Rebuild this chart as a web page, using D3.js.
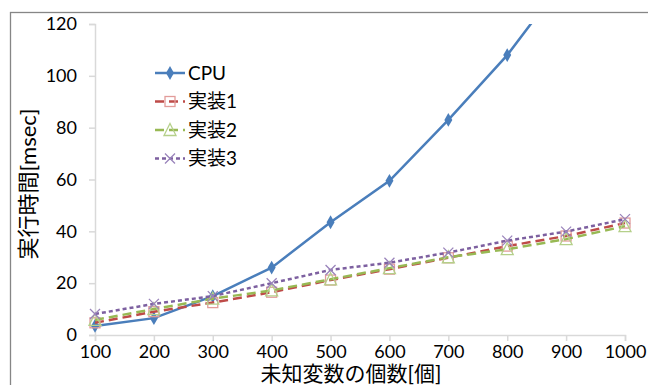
<!DOCTYPE html>
<html>
<head>
<meta charset="utf-8">
<script src="https://cdn.jsdelivr.net/npm/d3@7"></script>
<style>
  body { margin: 0; background: #fff; }
  svg { display: block; font-family: Lato, "Noto Sans CJK JP", sans-serif; }
</style>
</head>
<body>
<div id="chart"></div>
<script>
// データ
const xValues = [100, 200, 300, 400, 500, 600, 700, 800, 900, 1000];
const cpu   = [3.5, 6.5, 15, 26, 43.5, 59.5, 83, 108, 138, 170];
const impl1 = [4.7, 9, 12.5, 16.5, 21.2, 25.4, 29.8, 34.3, 38.2, 43.2];
const impl2 = [5.8, 10, 14, 17.2, 21.5, 25.8, 30, 33.1, 37, 42];
const impl3 = [8.1, 12, 15, 20, 25.1, 27.9, 31.8, 36.4, 39.9, 44.7];
const seriesNames = ["CPU", "実装1", "実装2", "実装3"];
const yTicks = [0, 20, 40, 60, 80, 100, 120];

const width = 648, height = 385;
const svg = d3.select("#chart").append("svg")
    .attr("width", width).attr("height", height);

// 外枠
svg.append("rect")
    .attr("x", 10.5).attr("y", 12.5)
    .attr("width", 700).attr("height", 400)
    .attr("fill", "none").attr("stroke", "#868686").attr("stroke-width", 1.3);

const x = d3.scaleLinear().domain([100, 1000]).range([95, 625]);
const y = d3.scaleLinear().domain([0, 120]).range([335, 24]);

// 軸
const yAxis = svg.append("g")
    .attr("transform", "translate(95,0)")
    .call(d3.axisLeft(y).tickValues(yTicks).tickFormat(d3.format("d")).tickSize(6).tickPadding(12));
const xAxis = svg.append("g")
    .attr("transform", "translate(0,335)")
    .call(d3.axisBottom(x).tickValues(xValues).tickFormat(d3.format("d")).tickSize(6).tickPadding(4));
[xAxis, yAxis].forEach(a => {
    a.selectAll("path, line").attr("stroke", "#d9d9d9").attr("stroke-width", 1.5);
    a.selectAll("text").attr("fill", "#000").style("font-size", "18px")
        .style("font-family", "Lato, 'Noto Sans CJK JP', sans-serif");
});

// 系列
const styles = [
    { color: "#4a7ebb", mark: "#4a7ebb", dash: null, w: 2.5, sym: "diamond" },
    { color: "#be4b48", mark: "#e29c9a", dash: "9,5", w: 2.5, sym: "square" },
    { color: "#98b954", mark: "#b5d08a", dash: "9,5", w: 2.5, sym: "triangle" },
    { color: "#7d60a0", mark: "#9a84bb", dash: "4,3", w: 2.5, sym: "x" }
];
const allSeries = [cpu, impl1, impl2, impl3];

svg.append("clipPath").attr("id", "plot")
    .append("rect").attr("x", 80).attr("y", 24).attr("width", 560).attr("height", 330);

const line = d3.line().x((d, i) => x(xValues[i])).y(d => y(d));

function drawMarker(g, sym, cx, cy, st) {
    if (sym === "diamond") {
        g.append("path").attr("d", d3.symbol(d3.symbolDiamond, 55)())
            .attr("transform", `translate(${cx},${cy})`).attr("fill", st.mark);
    } else if (sym === "square") {
        g.append("rect").attr("x", cx - 5).attr("y", cy - 5).attr("width", 10).attr("height", 10)
            .attr("fill", "none").attr("stroke", st.mark).attr("stroke-width", 1.3);
    } else if (sym === "triangle") {
        g.append("path").attr("d", `M${cx},${cy - 6.5}L${cx + 6},${cy + 5.5}L${cx - 6},${cy + 5.5}Z`)
            .attr("fill", "none").attr("stroke", st.mark).attr("stroke-width", 1.3);
    } else {
        g.append("path").attr("d", `M${cx - 5},${cy - 5}L${cx + 5},${cy + 5}M${cx - 5},${cy + 5}L${cx + 5},${cy - 5}`)
            .attr("stroke", st.mark).attr("stroke-width", 1.3);
    }
}

const plot = svg.append("g").attr("clip-path", "url(#plot)");
allSeries.forEach((s, k) => {
    const st = styles[k];
    const g = plot.append("g");
    g.append("path").datum(s).attr("d", line)
        .attr("fill", "none").attr("stroke", st.color).attr("stroke-width", st.w)
        .attr("stroke-dasharray", st.dash);
    s.forEach((v, i) => drawMarker(g, st.sym, x(xValues[i]), y(v), st));
});

// 凡例
const legend = svg.append("g").attr("transform", "translate(155,73)");
seriesNames.forEach((name, k) => {
    const st = styles[k];
    const row = legend.append("g").attr("transform", `translate(0,${k * 28.5})`);
    row.append("line").attr("x1", 0).attr("x2", 30).attr("y1", 0).attr("y2", 0)
        .attr("stroke", st.color).attr("stroke-width", 2.5).attr("stroke-dasharray", st.dash);
    drawMarker(row, st.sym, 15, 0, st);
    row.append("text").attr("x", 33).attr("y", 0).attr("dy", "0.36em")
        .style("font-size", "19px").text(name);
});

// 軸タイトル
svg.append("text")
    .attr("transform", "translate(36,184) rotate(-90)")
    .attr("text-anchor", "middle").style("font-size", "22px")
    .text("実行時間[msec]");
svg.append("text")
    .attr("x", 351).attr("y", 381)
    .attr("text-anchor", "middle").style("font-size", "21px")
    .text("未知変数の個数[個]");
</script>
</body>
</html>
